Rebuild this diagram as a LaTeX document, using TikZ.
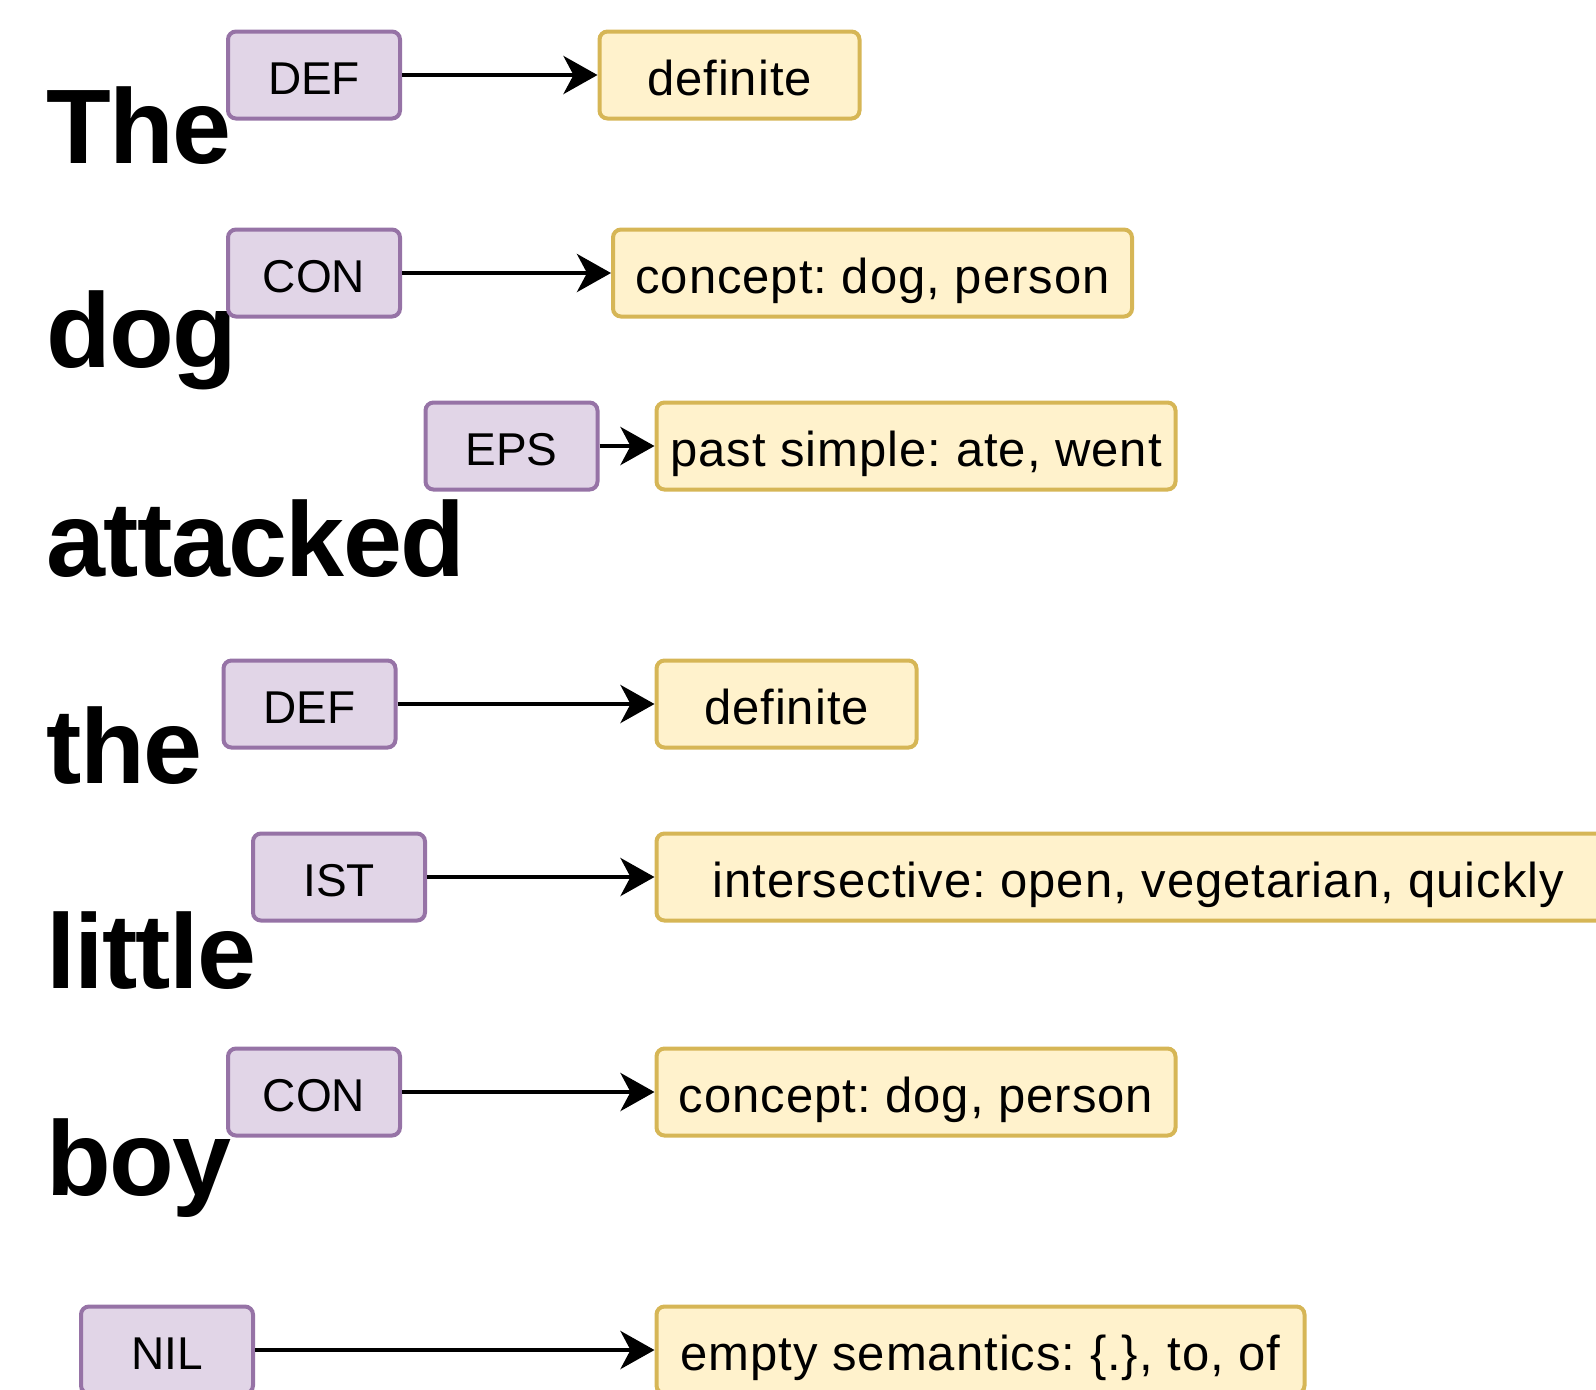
\documentclass[tikz,border=0pt]{standalone}
\usepackage{fontspec}
\setmainfont{Liberation Sans}
\newfontfamily\wordfont[LetterSpace=-1.5]{Liberation Sans}
\newfontfamily\semfont[LetterSpace=2]{Liberation Sans}
\usetikzlibrary{positioning, arrows.meta}
\definecolor{tagfill}{HTML}{E1D5E7}
\definecolor{tagdraw}{HTML}{9673A6}
\definecolor{semfill}{HTML}{FFF2CC}
\definecolor{semdraw}{HTML}{D6B656}
\frenchspacing

\begin{document}
\begin{tikzpicture}[
    x=0.5pt, y=-0.5pt,
    word/.style={anchor=base west, inner sep=0pt, font=\wordfont\fontsize{53}{57}\selectfont\bfseries},
    tag/.style={rectangle, draw=tagdraw, fill=tagfill, line width=2pt, rounded corners=4pt, minimum width=86pt, minimum height=43.5pt, inner sep=0pt, text height=19pt, text depth=0pt, font=\fontsize{23}{26}\selectfont},
    sem/.style={rectangle, draw=semdraw, fill=semfill, line width=2pt, rounded corners=4pt, minimum height=43.5pt, anchor=west, inner sep=0pt, text height=20pt, text depth=0pt, font=\semfont\fontsize{24.5}{27}\selectfont},
    link/.style={-{Stealth[length=17pt, width=19pt, inset=5pt]}, line width=2.2pt}
]
\clip (0,0) rectangle (1596,1389);

% words of the sentence
\node[word] (w_the) at (46,163) {The};
\node[word] (w_dog) at (46,367) {dog};
\node[word] (w_attacked) at (46,576) {attacked};
\node[word] (w_the2) at (46,783) {the};
\node[word] (w_little) at (46,988) {little};
\node[word] (w_boy) at (46,1195) {boy};

% semantic tags
\node[tag] (def1) at (314,75) {DEF};
\node[tag] (con1) at (314,273) {CON};
\node[tag] (eps) at (511.5,446) {EPS};
\node[tag] (def2) at (309.5,704) {DEF};
\node[tag] (ist) at (339,877) {IST};
\node[tag] (con2) at (314,1092) {CON};
\node[tag] (nil) at (167,1350) {NIL};

% meanings
\node[sem, minimum width=130pt] (definite1) at (597.5,75) {definite};
\node[sem, minimum width=259.5pt] (concept1) at (611,273) {concept: dog, person};
\node[sem, minimum width=259.5pt] (past) at (654.5,446) {past simple: ate, went};
\node[sem, minimum width=130pt] (definite2) at (654.5,704) {definite};
\node[sem, minimum width=482pt] (inter) at (654.5,877) {intersective: open, vegetarian, quickly};
\node[sem, minimum width=259.5pt] (concept2) at (654.5,1092) {concept: dog, person};
\node[sem, minimum width=324pt] (empty) at (654.5,1350) {empty semantics: \{.\}, to, of};

\draw[link] (def1) -- (definite1);
\draw[link] (con1) -- (concept1);
\draw[link] (eps) -- (past);
\draw[link] (def2) -- (definite2);
\draw[link] (ist) -- (inter);
\draw[link] (con2) -- (concept2);
\draw[link] (nil) -- (empty);
\end{tikzpicture}
\end{document}
